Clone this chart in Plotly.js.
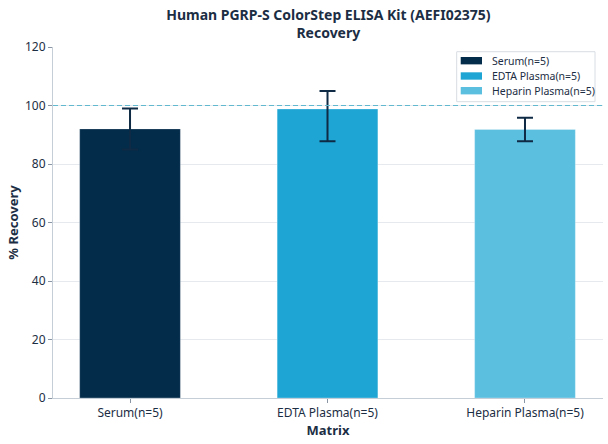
<!DOCTYPE html>
<html>
<head>
<meta charset="utf-8">
<script src="https://cdn.plot.ly/plotly-3.0.1.min.js"></script>
<style>html,body{margin:0;padding:0;background:#fff;}#chart{width:608px;height:444px;}</style>
</head>
<body>
<div id="chart"></div>
<script>
const categories = ["Serum(n=5)", "EDTA Plasma(n=5)", "Heparin Plasma(n=5)"];
const recovery = [92, 98.8, 91.8];
const errPlus = [7, 6.2, 4];
const errMinus = [7, 11, 4];
const colors = ["#032b4a", "#1fa5d3", "#5bbfe0"];

const traces = categories.map((c, i) => ({
  type: "bar",
  name: c,
  x: [c],
  y: [recovery[i]],
  width: 0.51,
  showlegend: false,
  marker: { color: colors[i], line: { color: "rgba(255,255,255,0.35)", width: 0.8 } },
  error_y: {
    type: "data",
    symmetric: false,
    array: [errPlus[i]],
    arrayminus: [errMinus[i]],
    color: "#0f2a44",
    thickness: 2,
    width: 8
  }
}));

// Legend drawn as shapes + text annotations (matplotlib-style wide swatches)
const legBox = { x0: 0.734, x1: 0.9855, y0: 0.8442, y1: 0.9866 };
const rowY = [0.961, 0.9174, 0.8755];
const swX0 = 0.7413, swX1 = 0.78, swHalf = 0.0105, txtX = 0.7945;

const shapes = [
  {
    type: "line", xref: "paper", x0: 0, x1: 1, yref: "y", y0: 100, y1: 100,
    line: { color: "#62b9cf", width: 1.2, dash: "5px,3px" }, layer: "above"
  },
  {
    type: "rect", xref: "paper", yref: "paper",
    x0: legBox.x0, x1: legBox.x1, y0: legBox.y0, y1: legBox.y1,
    fillcolor: "rgba(255,255,255,0.9)", line: { color: "#d8dde2", width: 1 }, layer: "above"
  }
];
const annotations = [];
categories.forEach((c, i) => {
  shapes.push({
    type: "rect", xref: "paper", yref: "paper",
    x0: swX0, x1: swX1, y0: rowY[i] - swHalf, y1: rowY[i] + swHalf,
    fillcolor: colors[i], line: { width: 0 }, layer: "above"
  });
  annotations.push({
    xref: "paper", yref: "paper", x: txtX, y: rowY[i],
    xanchor: "left", yanchor: "middle", showarrow: false,
    text: c, font: { size: 10.5, color: "#1c2e44" }
  });
});

const layout = {
  width: 608,
  height: 444,
  margin: { l: 53, r: 5, t: 47, b: 46 },
  paper_bgcolor: "#ffffff",
  plot_bgcolor: "#ffffff",
  font: { family: "Noto Sans, Open Sans, sans-serif", color: "#1c2e44", size: 12 },
  barmode: "overlay",
  showlegend: false,
  title: {
    text: "<b>Human PGRP-S ColorStep ELISA Kit (AEFI02375)<br>Recovery</b>",
    x: 0.54, xanchor: "center", y: 0.955, yanchor: "middle",
    font: { size: 14, color: "#1c2e44" }
  },
  xaxis: {
    type: "category",
    range: [-0.39, 2.395],
    showline: true, linecolor: "#c5ced6", linewidth: 1,
    ticks: "outside", ticklen: 4, tickcolor: "#8a96a3", tickwidth: 1,
    showgrid: false, zeroline: false,
    tickfont: { size: 12, color: "#1c2e44" },
    title: { text: "<b>Matrix</b>", font: { size: 13, color: "#1c2e44" }, standoff: 2 }
  },
  yaxis: {
    range: [0, 120],
    dtick: 20,
    showline: true, linecolor: "#c5ced6", linewidth: 1,
    ticks: "outside", ticklen: 4, tickcolor: "#8a96a3", tickwidth: 1,
    showgrid: true, gridcolor: "#e6eaee", gridwidth: 1,
    zeroline: false,
    tickfont: { size: 12, color: "#1c2e44" },
    title: { text: "<b>% Recovery</b>", font: { size: 13, color: "#1c2e44" }, standoff: 3 }
  },
  shapes: shapes,
  annotations: annotations
};

Plotly.newPlot("chart", traces, layout, { displayModeBar: false, staticPlot: true });
</script>
</body>
</html>
